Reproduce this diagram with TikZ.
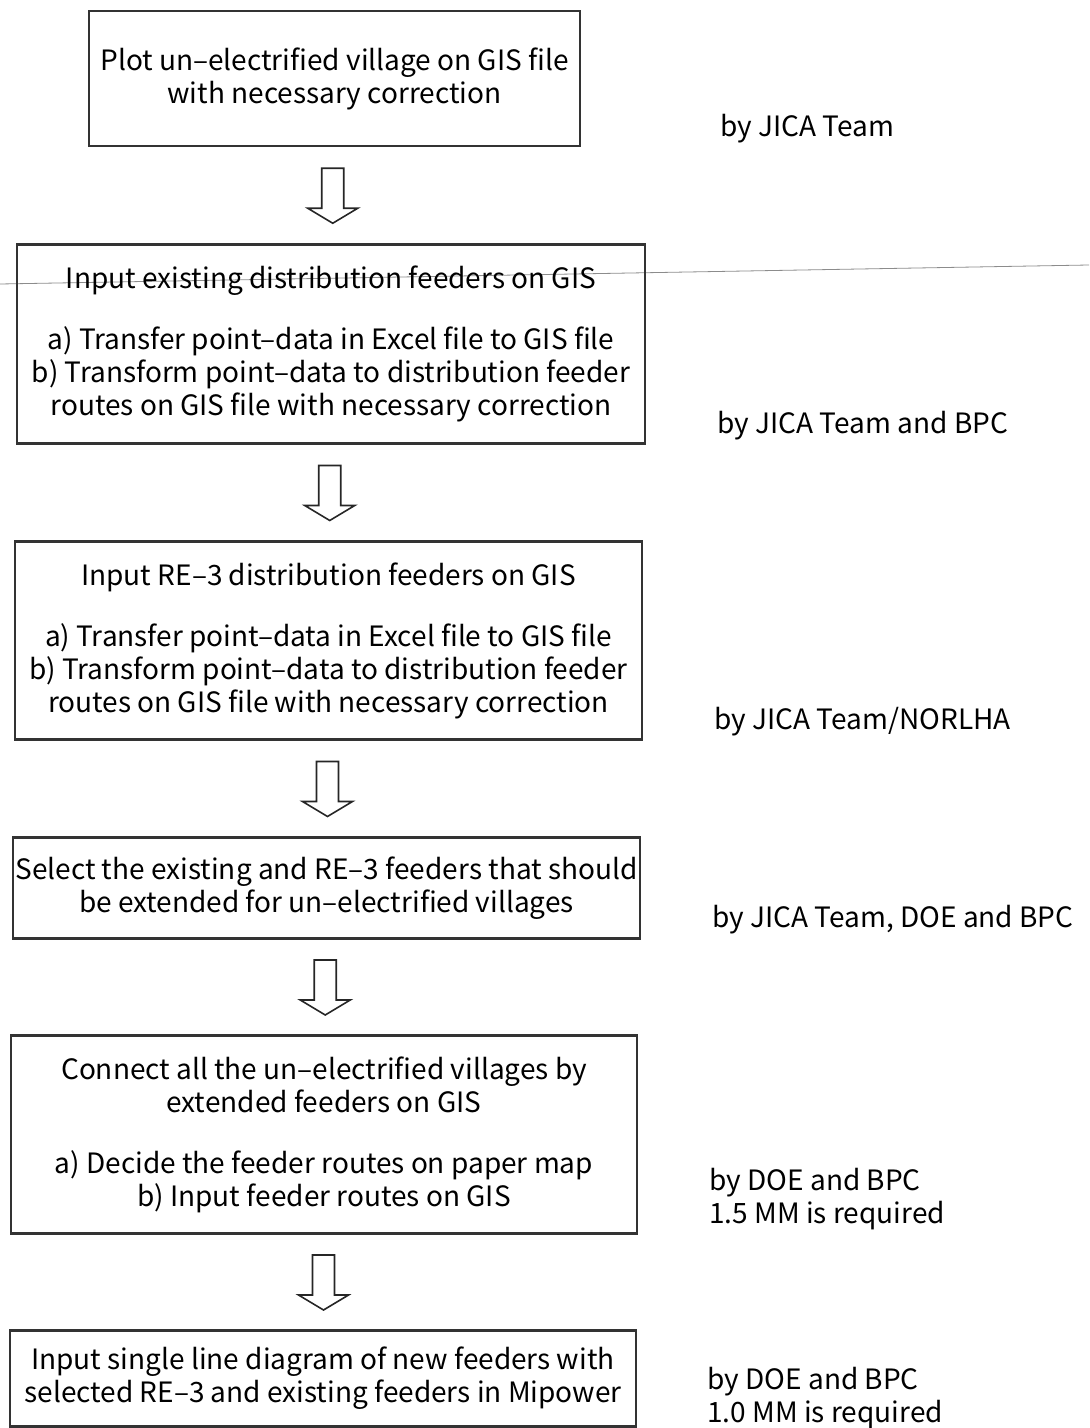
\documentclass[tikz,border=0pt]{standalone}
\usepackage{fontspec}
\setmainfont{Noto Sans CJK JP}
\usetikzlibrary{calc}

\begin{document}
\begin{tikzpicture}[x=.5pt,y=-.5pt,
  stepbox/.style={draw=black!80,line width=1.3pt,align=center,inner sep=0pt,
    font=\fontsize{14}{16.5}\selectfont},
  who/.style={anchor=west,align=left,inner sep=0pt,
    font=\fontsize{14}{16.5}\selectfont},
  downarr/.pic={\draw[black!85,line width=.8pt,line join=miter]
    (-11,-27)--(-11,13)--(-25,13)--(0,28)--(25,13)--(11,13)--(11,-27)--cycle;}]
\path[use as bounding box] (0,0) rectangle (1089,1428);
% scanner line across the page
\draw[black!45,line width=.4pt] (0,284)--(1089,265);

\node[stepbox,minimum width=245.5pt,minimum height=67.5pt] (plot) at (334.5,78.5)
  {Plot un--electrified village on GIS file\\with necessary correction};
\node[stepbox,minimum width=314pt,minimum height=99.5pt] (exist) at (331,344)
  {Input existing distribution feeders on GIS\\[14pt]
   a) Transfer point--data in Excel file to GIS file\\
   b) Transform point--data to distribution feeder\\
   routes on GIS file with necessary correction};
\node[stepbox,minimum width=313.5pt,minimum height=99pt] (rethree) at (328.5,640.5)
  {Input RE--3 distribution feeders on GIS\\[14pt]
   a) Transfer point--data in Excel file to GIS file\\
   b) Transform point--data to distribution feeder\\
   routes on GIS file with necessary correction};
\node[stepbox,minimum width=313.5pt,minimum height=50.5pt] (select) at (326.5,888)
  {Select the existing and RE--3 feeders that should\\be extended for un--electrified villages};
\node[stepbox,minimum width=313pt,minimum height=99pt] (connect) at (324,1134.5)
  {Connect all the un--electrified villages by\\extended feeders on GIS\\[14pt]
   a) Decide the feeder routes on paper map\\
   b) Input feeder routes on GIS};
\node[stepbox,minimum width=313pt,minimum height=48pt] (mipower) at (323,1378.5)
  {Input single line diagram of new feeders with\\selected RE--3 and existing feeders in Mipower};

\path ($(plot.south)!.5!(exist.north)$) pic {downarr};
\path ($(exist.south)!.5!(rethree.north)$) pic {downarr};
\path ($(rethree.south)!.5!(select.north)$) pic {downarr};
\path ($(select.south)!.5!(connect.north)$) pic {downarr};
\path ($(connect.south)!.5!(mipower.north)$) pic {downarr};

\node[who] (byplot) at (720,129) {by JICA Team};
\node[who] (byexist) at (717,426) {by JICA Team and BPC};
\node[who] (byre) at (714,722) {by JICA Team/NORLHA};
\node[who] (bysel) at (712,920) {by JICA Team, DOE and BPC};
\node[who] (bycon) at (709,1199) {by DOE and BPC\\1.5 MM is required};
\node[who] (bymip) at (707,1398) {by DOE and BPC\\1.0 MM is required};
\end{tikzpicture}
\end{document}
